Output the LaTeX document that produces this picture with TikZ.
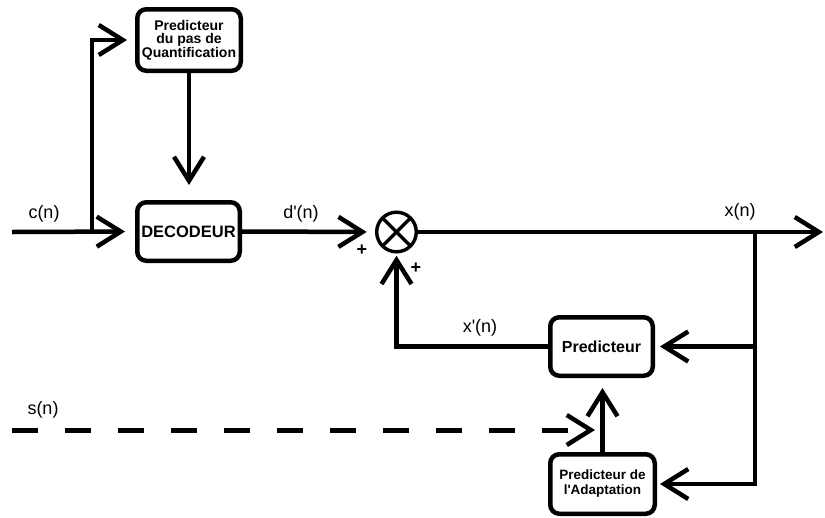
\documentclass[tikz,border=0pt]{standalone}
\usepackage{fontspec}
\setmainfont{Liberation Sans}
\usetikzlibrary{arrows.meta}
\begin{document}
\begin{tikzpicture}[x=1pt,y=-1pt,line width=4.5pt,
  blk/.style={draw, rounded corners=9pt, line width=4.5pt, align=center, inner sep=1pt, font=\bfseries},
  arr/.style={-{Straight Barb[length=24pt,width=30pt,line width=4.5pt]}},
  lbl/.style={font=\fontsize{18}{20}\selectfont, inner sep=0pt},
  plus/.style={font=\bfseries\fontsize{18}{18}\selectfont, inner sep=0pt}]
\useasboundingbox (0,0) rectangle (825,517);

% blocks
\node[blk, minimum width=103.5pt, minimum height=61.5pt,
      font=\bfseries\fontsize{14}{13.5}\selectfont] (top) at (189,40)
      {Predicteur\\du pas de\\Quantification};
\node[blk, minimum width=102.5pt, minimum height=58.5pt,
      font=\bfseries\fontsize{16.5}{16}\selectfont] (dec) at (188.5,231.5) {DECODEUR};
\node[blk, minimum width=102.5pt, minimum height=58.5pt,
      font=\bfseries\fontsize{16}{16}\selectfont] (pred) at (601.5,346.5) {Predicteur};
\node[blk, minimum width=104.5pt, minimum height=59.5pt,
      font=\bfseries\fontsize{13.5}{15}\selectfont] (ada) at (602.5,484)
      {Predicteur de\\l\textquotesingle Adaptation};

% multiplier
\node[draw, circle, line width=3.4pt, minimum size=39.6pt, inner sep=0pt, outer sep=0pt] (mix) at (396.5,232) {};
\draw[line width=3.4pt] (mix.45) -- (mix.225);
\draw[line width=3.4pt] (mix.135) -- (mix.315);

% coordinates
\coordinate (cin) at (12,232);
\coordinate (j1) at (92,232);
\coordinate (xout) at (823,232);
\coordinate (j2) at (755,232);
\coordinate (j3) at (755,346.5);
\coordinate (sin) at (12,430);
\coordinate (sa) at (595,430);

% connectors
\draw[arr, shorten >=10pt] (cin) -- (dec.west);
\draw[arr, shorten >=8pt] (j1) |- (top.west);
\draw[arr, shorten >=15pt] (top.south) -- (top.south |- dec.north);
\draw[arr, shorten >=10pt] (dec.east) -- (mix.west);
\draw[arr] (mix.east) -- (xout);
\draw[arr, shorten >=3pt] (j2) |- (ada.east);
\draw[arr, shorten >=5pt] (j3) -- (pred.east);
\draw[arr, shorten >=4pt] (pred.west) -| (mix.south);
\draw[arr, shorten >=10pt] (ada.north) -- (ada.north |- pred.south);
\draw[arr, line width=5pt, dash pattern=on 26pt off 27pt] (sin) -- (sa);

% labels
\node[lbl] (lc) at (44,214) {c(n)};
\node[lbl] (ld) at (301,214) {d\textquotesingle(n)};
\node[lbl] (lx) at (740,212) {x(n)};
\node[lbl] (lxp) at (480,328) {x\textquotesingle(n)};
\node[lbl] (ls) at (43,410) {s(n)};
\node[plus] (p1) at (362,250) {+};
\node[plus] (p2) at (416,268) {+};
\end{tikzpicture}
\end{document}
